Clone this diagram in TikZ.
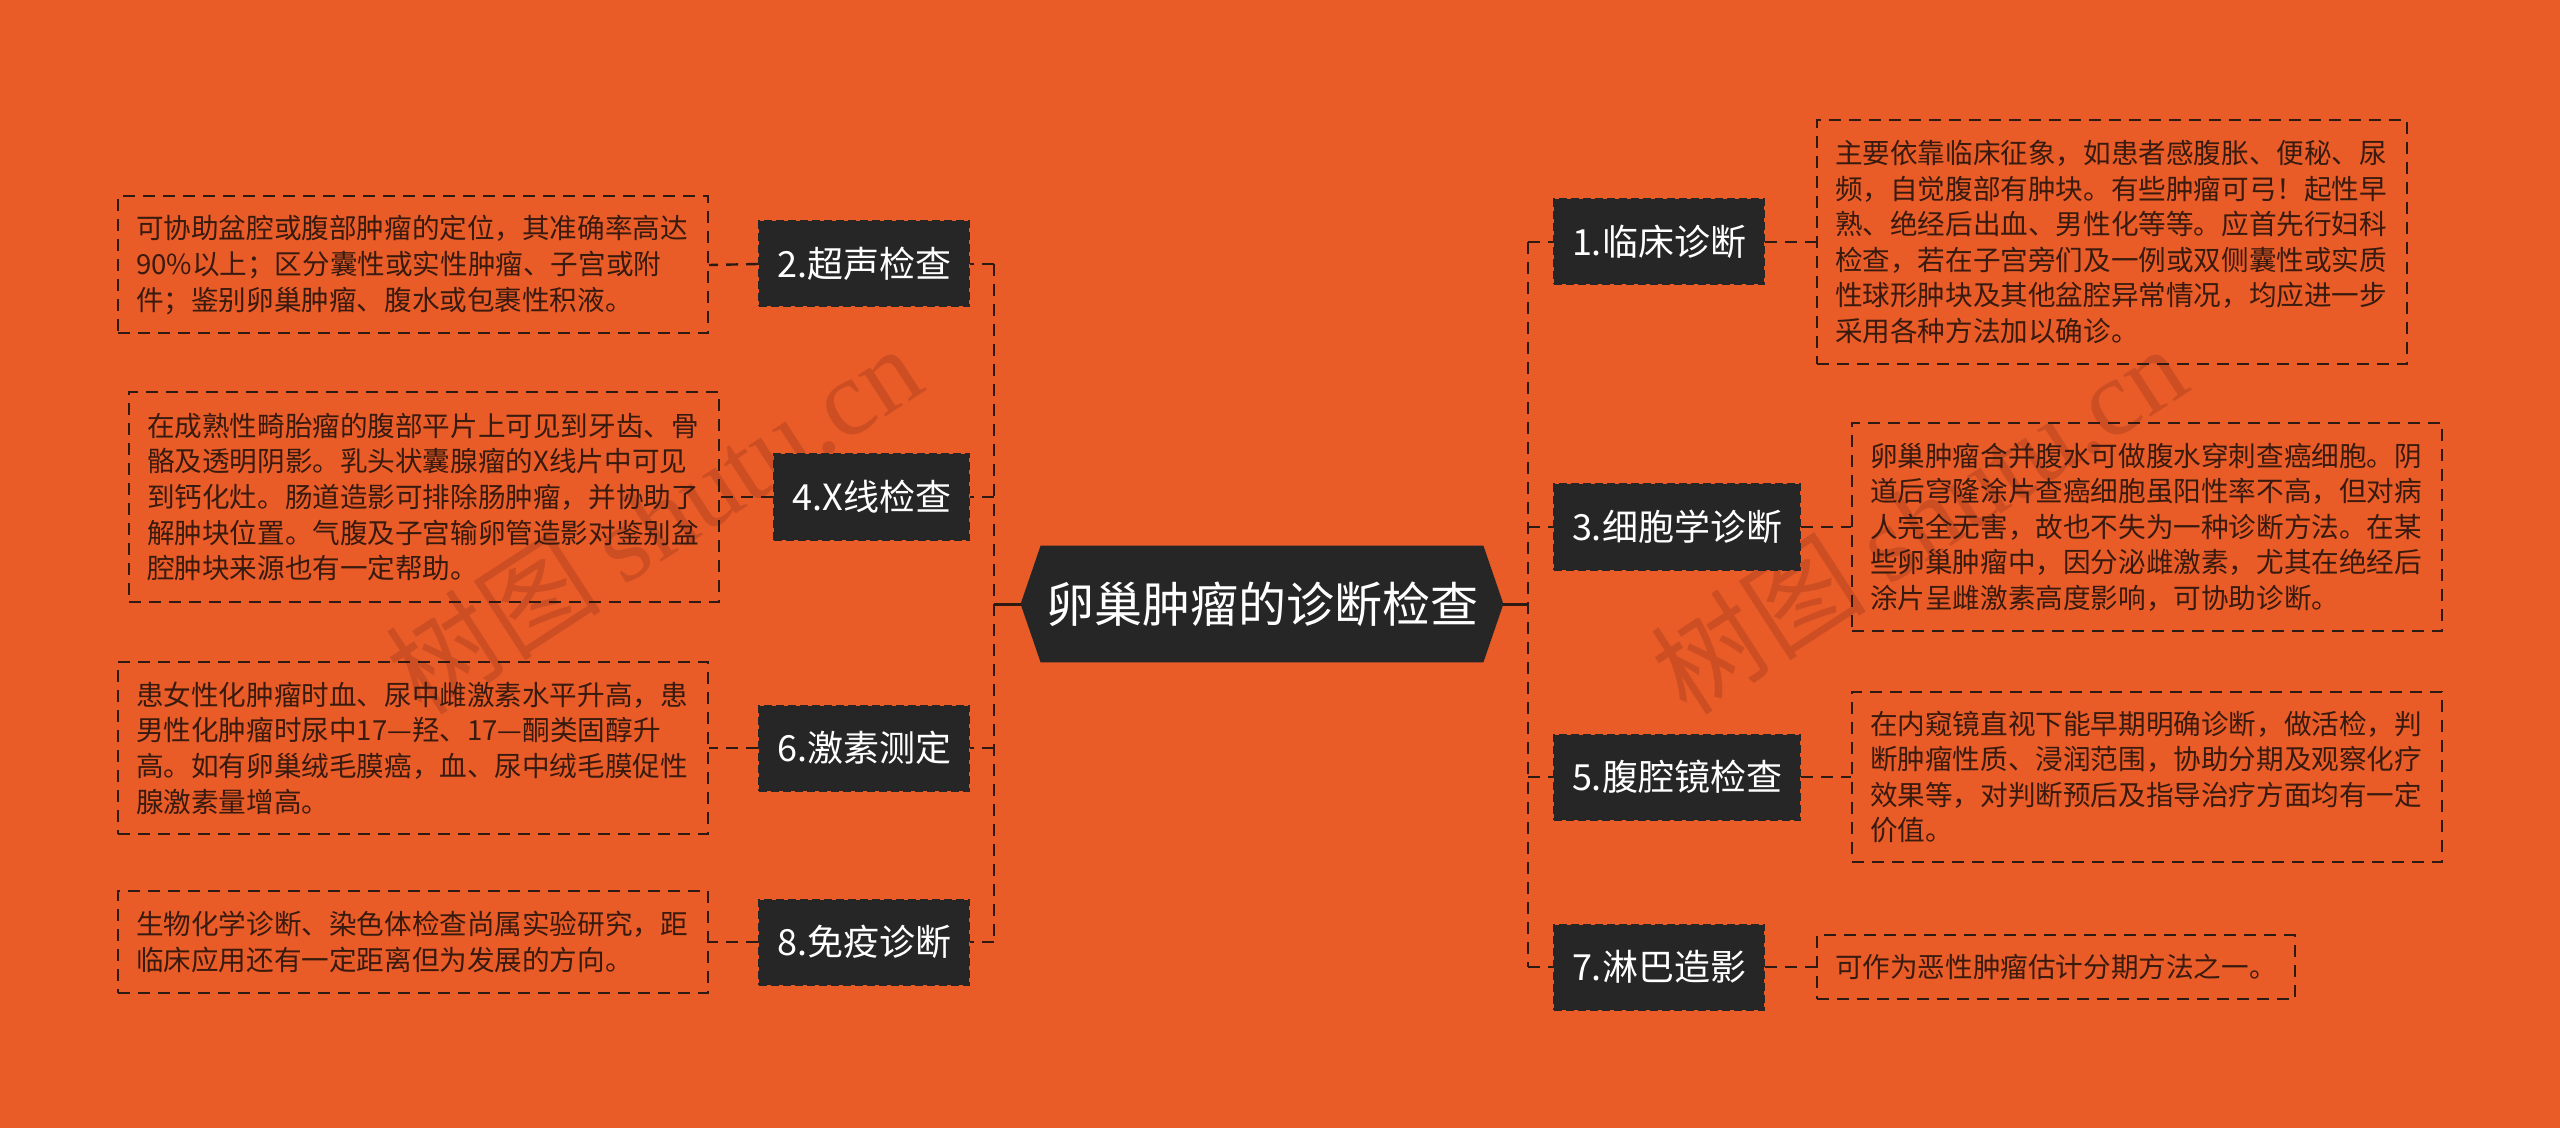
\documentclass[tikz,border=0pt]{standalone}
\usepackage{fontspec}
\setmainfont{Noto Sans CJK SC}
\newfontfamily\wmlatin{Liberation Serif}
\usetikzlibrary{backgrounds,calc}
\definecolor{bgorange}{RGB}{233,92,40}
\definecolor{darkbox}{RGB}{38,38,38}
\definecolor{linecol}{RGB}{46,26,18}
\definecolor{leaftext}{RGB}{56,26,14}
\definecolor{wmark}{RGB}{120,40,20}
\tikzset{
  topic/.style={fill=darkbox, draw=darkbox, line width=1pt, dash pattern=on 4pt off 2pt,
    text=white, font=\fontsize{18pt}{22pt}\selectfont, inner xsep=9pt, inner ysep=0pt,
    minimum height=42.5pt},
  leaf/.style={draw=linecol, line width=1pt, dash pattern=on 6pt off 4pt, text=leaftext,
    font=\fontsize{13.8pt}{17.8pt}\selectfont, align=left, inner xsep=9pt, inner ysep=0pt},
  wide/.style={text width=277pt},
  conn/.style={draw=linecol, line width=1.2pt, dash pattern=on 6pt off 4pt},
  solidconn/.style={draw=linecol, line width=1.5pt},
  title/.style={text=white, font=\fontsize{24pt}{28pt}\selectfont, minimum width=241pt,
    minimum height=58pt, inner sep=0pt},
  watermark/.style={text=wmark, text opacity=0.25, font=\fontsize{54pt}{58pt}\selectfont, rotate=33}
}
\begin{document}
\begin{tikzpicture}[x=0.5pt,y=-0.5pt]
\useasboundingbox (0,0) rectangle (2560,1128);

% centre
\node[title] (c) at (1262,604) {卵巢肿瘤的诊断检查};
\coordinate (sl) at (994,604);
\coordinate (sr) at (1528,604);

% left topics
\node[topic, anchor=east] (t2) at (970,264) {2.超声检查};
\node[topic, anchor=east] (t4) at (970,497) {4.X线检查};
\node[topic, anchor=east] (t6) at (970,748) {6.激素测定};
\node[topic, anchor=east] (t8) at (970,942) {8.免疫诊断};
% right topics
\node[topic, anchor=west] (t1) at (1553,242) {1.临床诊断};
\node[topic, anchor=west] (t3) at (1553,527) {3.细胞学诊断};
\node[topic, anchor=west] (t5) at (1553,777) {5.腹腔镜检查};
\node[topic, anchor=west] (t7) at (1553,967) {7.淋巴造影};

% left leaves
\node[leaf, wide, anchor=east, minimum height=68.5pt] (l2) at (709,265)
{可协助盆腔或腹部肿瘤的定位，其准确率高达\\
90\%以上；区分囊性或实性肿瘤、子宫或附\\
件；鉴别卵巢肿瘤、腹水或包裹性积液。};
\node[leaf, wide, anchor=east, minimum height=104.5pt] (l4) at (720,497)
{在成熟性畸胎瘤的腹部平片上可见到牙齿、骨\\
骼及透明阴影。乳头状囊腺瘤的X线片中可见\\
到钙化灶。肠道造影可排除肠肿瘤，并协助了\\
解肿块位置。气腹及子宫输卵管造影对鉴别盆\\
腔肿块来源也有一定帮助。};
\node[leaf, wide, anchor=east, minimum height=86pt] (l6) at (709,748)
{患女性化肿瘤时血、尿中雌激素水平升高，患\\
男性化肿瘤时尿中17—羟、17—酮类固醇升\\
高。如有卵巢绒毛膜癌，血、尿中绒毛膜促性\\
腺激素量增高。};
\node[leaf, wide, anchor=east, minimum height=51pt] (l8) at (709,942)
{生物化学诊断、染色体检查尚属实验研究，距\\
临床应用还有一定距离但为发展的方向。};

% right leaves
\node[leaf, wide, anchor=west, minimum height=122pt] (r1) at (1816,242)
{主要依靠临床征象，如患者感腹胀、便秘、尿\\
频，自觉腹部有肿块。有些肿瘤可弓！起性早\\
熟、绝经后出血、男性化等等。应首先行妇科\\
检查，若在子宫旁们及一例或双侧囊性或实质\\
性球形肿块及其他盆腔异常情况，均应进一步\\
采用各种方法加以确诊。};
\node[leaf, wide, anchor=west, minimum height=104pt] (r3) at (1851,527)
{卵巢肿瘤合并腹水可做腹水穿刺查癌细胞。阴\\
道后穹隆涂片查癌细胞虽阳性率不高，但对病\\
人完全无害，故也不失为一种诊断方法。在某\\
些卵巢肿瘤中，因分泌雌激素，尤其在绝经后\\
涂片呈雌激素高度影响，可协助诊断。};
\node[leaf, wide, anchor=west, minimum height=85pt] (r5) at (1851,777)
{在内窥镜直视下能早期明确诊断，做活检，判\\
断肿瘤性质、浸润范围，协助分期及观察化疗\\
效果等，对判断预后及指导治疗方面均有一定\\
价值。};
\node[leaf, anchor=west, minimum height=32pt, minimum width=238pt] (r7) at (1816,967)
{可作为恶性肿瘤估计分期方法之一。};

% connectors: centre to spines
\draw[solidconn] (c.west) -- (sl);
\draw[solidconn] (c.east) -- (sr);
% spines
\draw[conn] (t2.east -| sl) -- (t8.east -| sl);
\draw[conn] (t1.west -| sr) -- (t7.west -| sr);
\foreach \t in {t2,t4,t6,t8} { \draw[conn] (\t.east -| sl) -- (\t.east); }
\foreach \t in {t1,t3,t5,t7} { \draw[conn] (\t.west -| sr) -- (\t.west); }
% topics to leaves
\draw[conn] (t2.west) -- (l2.east);
\draw[conn] (t4.west) -- (l4.east);
\draw[conn] (t6.west) -- (l6.east);
\draw[conn] (t8.west) -- (l8.east);
\draw[conn] (t1.east) -- (r1.west);
\draw[conn] (t3.east) -- (r3.west);
\draw[conn] (t5.east) -- (r5.west);
\draw[conn] (t7.east) -- (r7.west);

\begin{scope}[on background layer]
  \fill[bgorange] (0,0) rectangle (2560,1128);
  \node[watermark] (wm1) at (653,519) {树图 {\wmlatin shutu.cn}};
  \node[watermark] (wm2) at (1918,519) {树图 {\wmlatin shutu.cn}};
  \fill[darkbox] (c.west) -- ([xshift=10pt]c.north west) -- ([xshift=-10pt]c.north east)
     -- (c.east) -- ([xshift=-10pt]c.south east) -- ([xshift=10pt]c.south west) -- cycle;
\end{scope}
\end{tikzpicture}
\end{document}
